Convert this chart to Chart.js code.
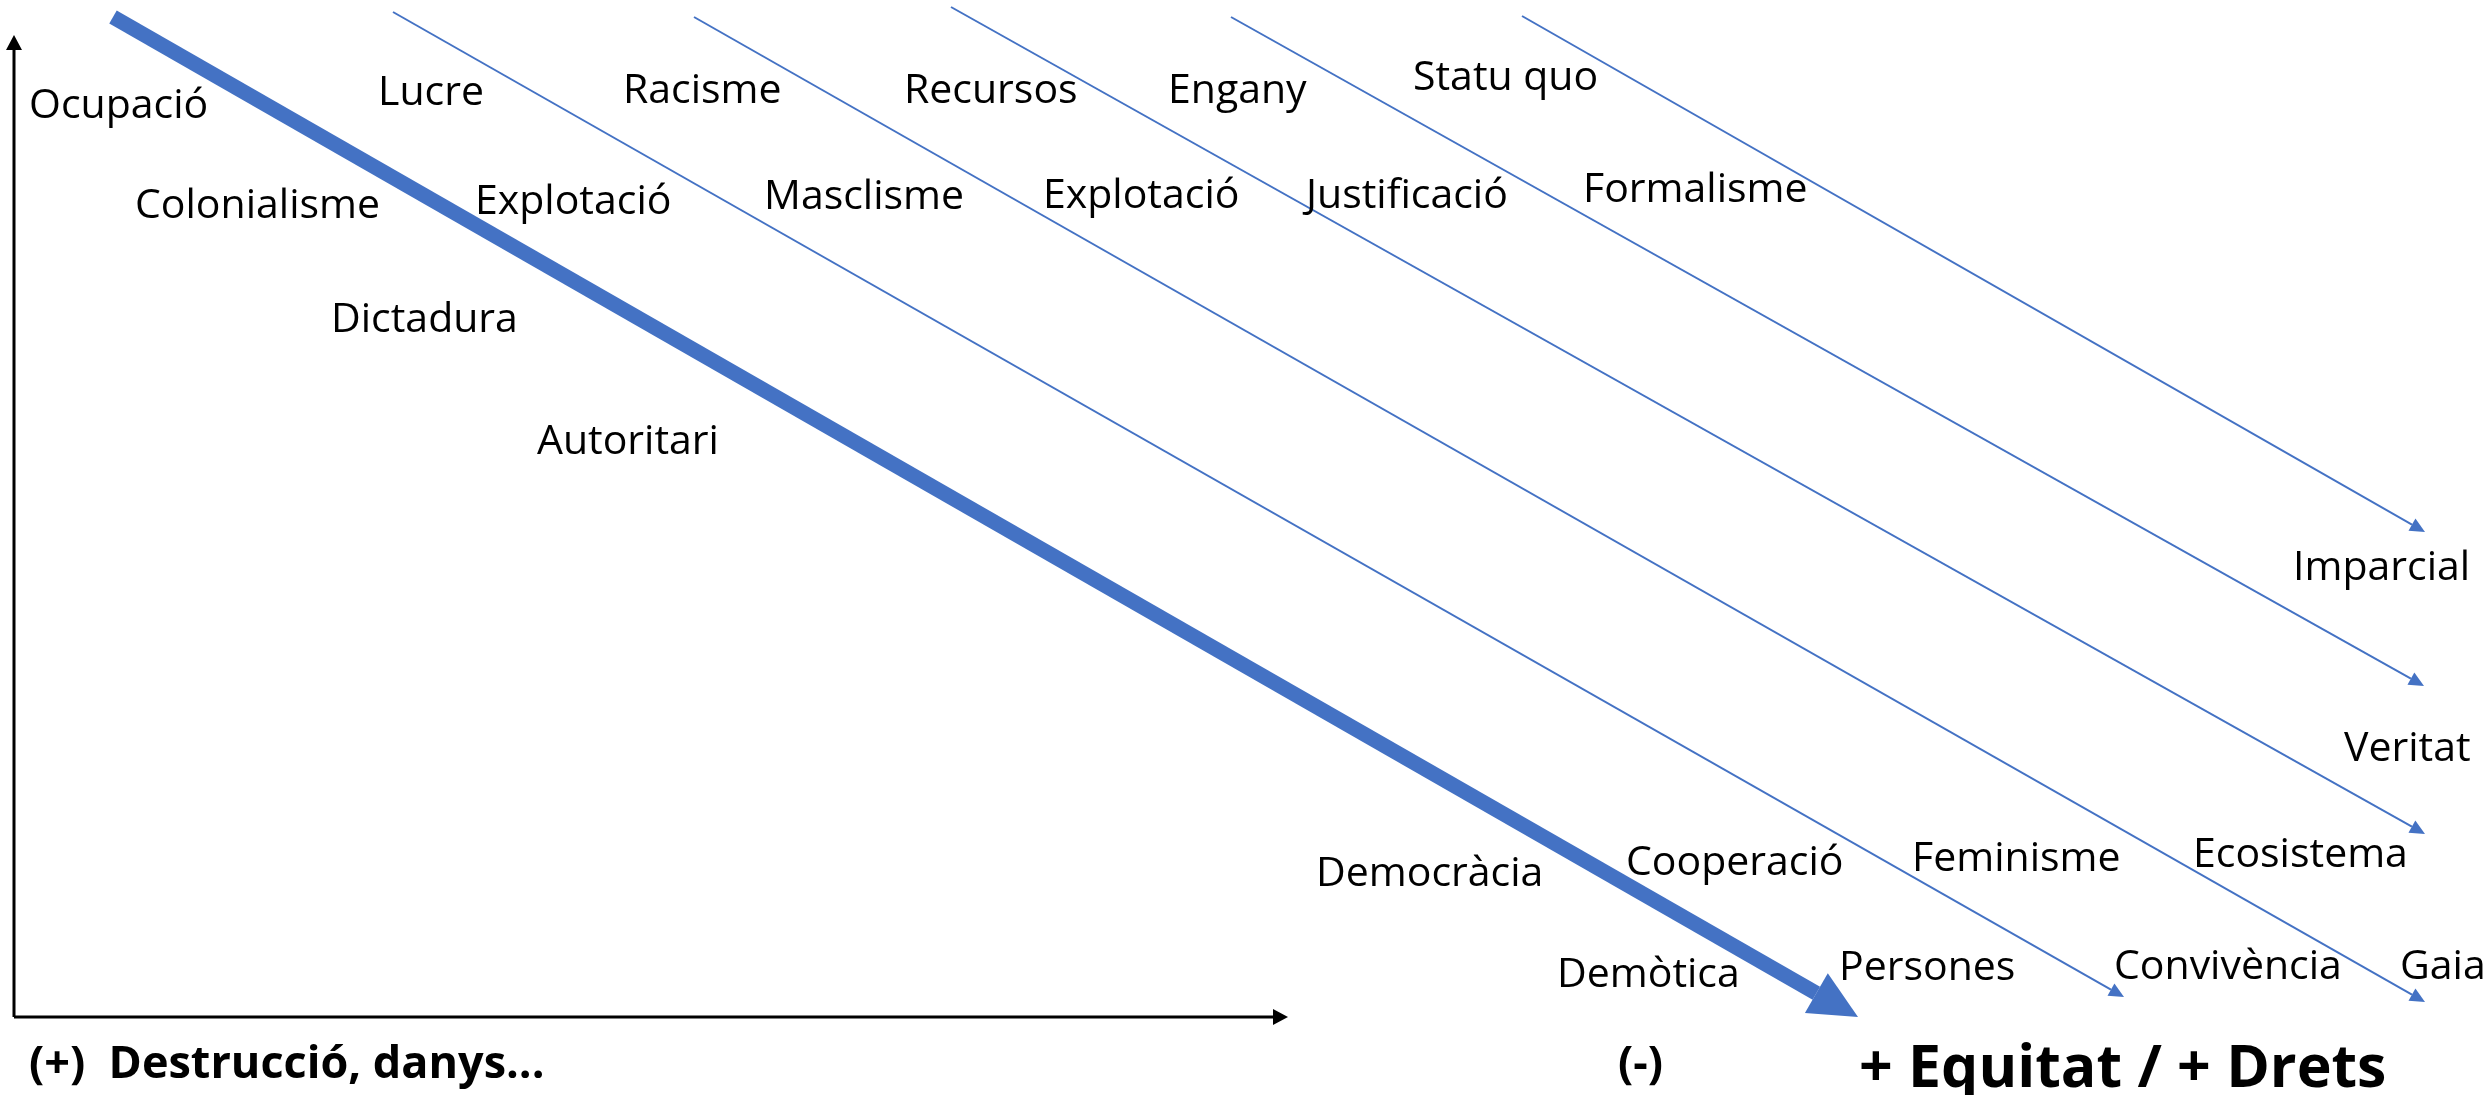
<!DOCTYPE html>
<html>
<head>
<meta charset="utf-8">
<script src="https://cdn.jsdelivr.net/npm/chart.js@4.4.1/dist/chart.umd.min.js"></script>
<style>
  html, body { margin: 0; padding: 0; background: #fff; overflow: hidden; }
</style>
</head>
<body>
<canvas id="diagram" width="2492" height="1095"></canvas>
<script>
// diagram space: x to the right, y downwards (same units as the original picture)
const axisX = [[14, 1017], [1288, 1017]];
const axisY = [[14, 1017], [14, 35]];
const mainArrow = [[113, 17], [1858, 1017]];
const thinArrows = [
  [[393, 12], [2124, 997]],
  [[694, 17], [2425, 1002]],
  [[951, 7], [2425, 834]],
  [[1231, 17], [2424, 686]],
  [[1522, 16], [2425, 532]]
];

const termTexts = ['Ocupació', 'Lucre', 'Racisme', 'Recursos', 'Engany', 'Statu quo',
  'Colonialisme', 'Explotació', 'Masclisme', 'Explotació', 'Justificació', 'Formalisme',
  'Dictadura', 'Autoritari',
  'Imparcial', 'Veritat', 'Ecosistema', 'Feminisme', 'Cooperació', 'Democràcia',
  'Demòtica', 'Persones', 'Convivència', 'Gaia'];
const termX = [29, 378, 623, 904, 1168, 1413,
  135, 475, 764, 1043, 1306, 1583,
  331, 537,
  2293, 2344, 2193, 1912, 1626, 1316,
  1557, 1839, 2114, 2400];
const termY = [118, 105, 103, 103, 103, 90,
  218, 214, 209, 208, 208, 202,
  332, 454,
  580, 761, 867, 871, 875, 886,
  987, 980, 979, 979];

const axisTexts = ['(+)  Destrucció, danys...', '(-)', '+ Equitat / + Drets'];
const axisTextX = [29, 1618, 1859];
const axisTextY = [1078, 1078, 1087];

const BLUE = '#4472C4';

// line dataset that stops where the arrow head begins
function arrowDataset(seg, color, width, headLen, headWidth) {
  const [s, t] = seg;
  const dx = t[0] - s[0], dy = t[1] - s[1];
  const d = Math.hypot(dx, dy);
  return {
    type: 'line',
    data: [{ x: s[0], y: s[1] }, { x: t[0] - dx / d * headLen, y: t[1] - dy / d * headLen }],
    tip: { x: t[0], y: t[1] },
    headWidth: headWidth,
    borderColor: color,
    backgroundColor: color,
    borderWidth: width,
    borderCapStyle: 'butt',
    pointRadius: 0,
    tension: 0,
    fill: false
  };
}

const datasets = [
  arrowDataset(axisX, '#000', 3, 15, 16),
  arrowDataset(axisY, '#000', 3, 15, 16),
  arrowDataset(mainArrow, BLUE, 15, 48, 46)
];
thinArrows.forEach(seg => datasets.push(arrowDataset(seg, BLUE, 2, 15, 14)));

const arrowHeads = {
  id: 'arrowHeads',
  afterDatasetsDraw(chart) {
    const ctx = chart.ctx;
    const xs = chart.scales.x, ys = chart.scales.y;
    chart.data.datasets.forEach(ds => {
      const b = ds.data[ds.data.length - 1];
      const bx = xs.getPixelForValue(b.x), by = ys.getPixelForValue(b.y);
      const tx = xs.getPixelForValue(ds.tip.x), ty = ys.getPixelForValue(ds.tip.y);
      const dx = tx - bx, dy = ty - by;
      const d = Math.hypot(dx, dy);
      const nx = -dy / d * ds.headWidth / 2, ny = dx / d * ds.headWidth / 2;
      ctx.save();
      ctx.fillStyle = ds.borderColor;
      ctx.beginPath();
      ctx.moveTo(tx, ty);
      ctx.lineTo(bx + nx, by + ny);
      ctx.lineTo(bx - nx, by - ny);
      ctx.closePath();
      ctx.fill();
      ctx.restore();
    });
  }
};

const termLabels = {
  id: 'termLabels',
  afterDraw(chart) {
    const ctx = chart.ctx;
    const xs = chart.scales.x, ys = chart.scales.y;
    ctx.save();
    ctx.fillStyle = '#000';
    ctx.textBaseline = 'alphabetic';
    ctx.textAlign = 'left';
    ctx.font = '41px "Open Sans"';
    termTexts.forEach((t, i) => {
      ctx.fillText(t, xs.getPixelForValue(termX[i]), ys.getPixelForValue(termY[i]));
    });
    axisTexts.forEach((t, i) => {
      ctx.font = i === 2 ? 'bold 59px "Open Sans"' : 'bold 45px "Open Sans"';
      ctx.fillText(t, xs.getPixelForValue(axisTextX[i]), ys.getPixelForValue(axisTextY[i]));
    });
    ctx.restore();
  }
};

new Chart(document.getElementById('diagram'), {
  type: 'scatter',
  data: { datasets: datasets },
  options: {
    responsive: false,
    animation: false,
    devicePixelRatio: 1,
    layout: { padding: 0 },
    plugins: { legend: { display: false }, tooltip: { enabled: false } },
    scales: {
      x: { type: 'linear', min: 0, max: 2492, display: false },
      y: { type: 'linear', min: 0, max: 1095, reverse: true, display: false }
    }
  },
  plugins: [arrowHeads, termLabels]
});
</script>
</body>
</html>
